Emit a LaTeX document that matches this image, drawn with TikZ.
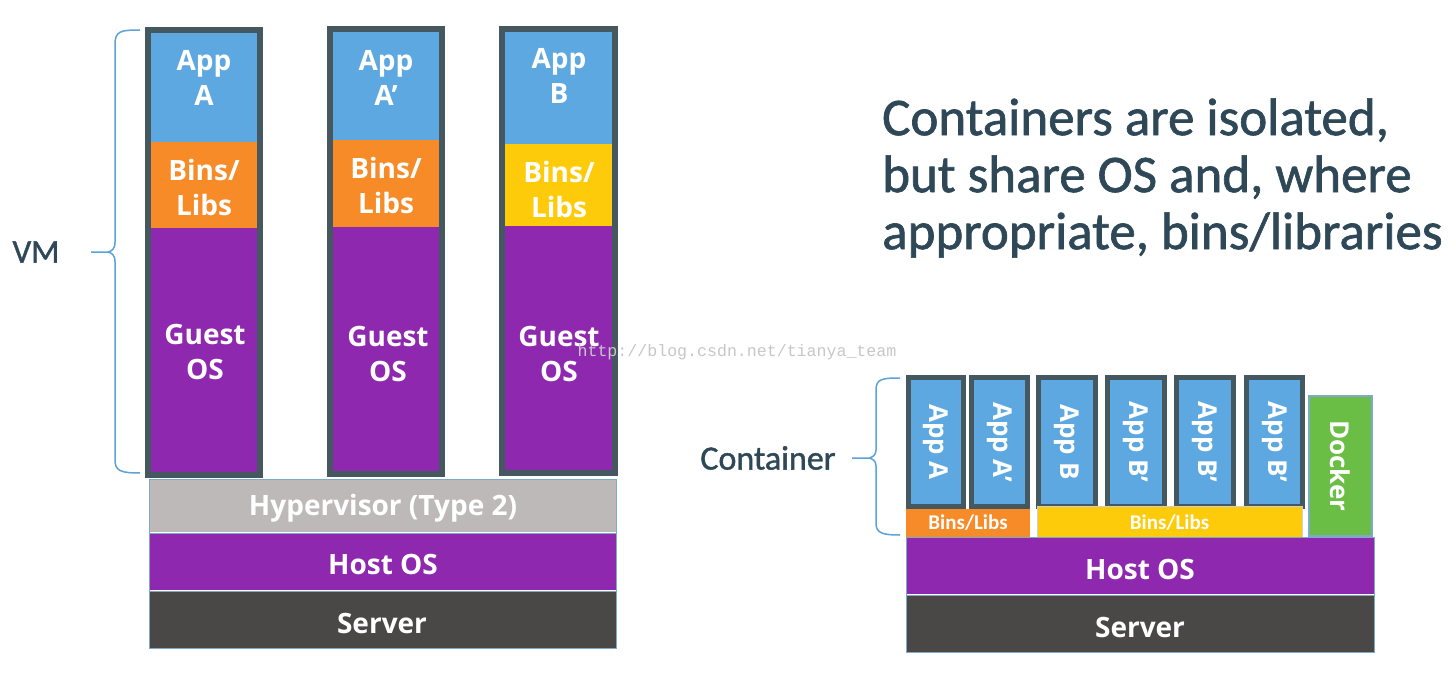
\documentclass[tikz,border=0pt]{standalone}
\usepackage{fontspec}
\setmainfont{Open Sans}
\newfontfamily\calfont{Carlito}
\newfontfamily\calheavy[FakeBold=1.2]{Carlito}
\newfontfamily\wmfont{Liberation Mono}
\definecolor{appblue}{HTML}{5DA8E0}
\definecolor{binorange}{HTML}{F68B28}
\definecolor{binyellow}{HTML}{FECB0A}
\definecolor{ospurple}{HTML}{8E28AE}
\definecolor{hypgray}{HTML}{BDB9B9}
\definecolor{serverdark}{HTML}{4A4747}
\definecolor{frame}{HTML}{45575F}
\definecolor{dockgreen}{HTML}{6ABD45}
\definecolor{txtdark}{HTML}{2F4858}
\definecolor{bracec}{HTML}{5BA3D9}
\definecolor{sepline}{HTML}{7FA9C9}
\definecolor{wmgray}{HTML}{C9C6C6}
% name, x0, y0, x1, y1, colour
\newcommand{\mkblock}[6]{%
  \node[blk, fill=#6, minimum width={(#4-#2)*1pt}, minimum height={(#5-#3)*1pt}] (#1) at (#2,#3) {};}
\begin{document}
\begin{tikzpicture}[x=1pt,y=-1pt,
  blk/.style={draw=none, inner sep=0pt, outer sep=0pt, anchor=north west},
  lbl/.style={text=white, font=\bfseries\fontsize{28}{35}\selectfont, align=center, inner sep=0pt},
  clbl/.style={text=white, font=\bfseries\fontsize{26}{30}\selectfont, inner sep=0pt, rotate=-90},
  slbl/.style={text=white, font=\calfont\bfseries\fontsize{21}{22}\selectfont, inner sep=0pt},
  dtext/.style={text=txtdark, inner sep=0pt},
  bracestyle/.style={draw=bracec, line width=1.5pt}]
\useasboundingbox (0,0) rectangle (1452,682);
\fill[white] (0,0) rectangle (1452,682);

% ---------- VM side ----------
\mkblock{f1}{145}{27}{263}{478}{frame}
\mkblock{app1}{151}{33}{257}{142}{appblue}
\mkblock{bin1}{151}{142}{257}{228}{binorange}
\mkblock{os1}{151}{228}{257}{472}{ospurple}

\mkblock{f2}{327}{26}{445}{477}{frame}
\mkblock{app2}{333}{32}{439}{140}{appblue}
\mkblock{bin2}{333}{140}{439}{227}{binorange}
\mkblock{os2}{333}{227}{439}{471}{ospurple}

\mkblock{f3}{499}{26}{618}{476}{frame}
\mkblock{app3}{505}{32}{612}{144}{appblue}
\mkblock{bin3}{505}{144}{612}{226}{binyellow}
\mkblock{os3}{505}{226}{612}{470}{ospurple}

\mkblock{hyp}{149}{479}{616}{532}{hypgray}
\mkblock{host1}{149}{533}{616}{590}{ospurple}
\mkblock{srv1}{149}{591}{616}{648}{serverdark}
\draw[sepline, line width=1pt] (hyp.north west) rectangle (srv1.south east);
\draw[sepline, line width=1pt] (host1.north west) -- (host1.north east);
\draw[sepline, line width=1pt] (srv1.north west) -- (srv1.north east);

\node[lbl] (tapp1) at (204,78) {App\\A};
\node[lbl] (tapp2) at (386,78) {App\\A’};
\node[lbl] (tapp3) at (559,76) {App\\B};
\node[lbl] (tbin1) at (204,187) {Bins/\\Libs};
\node[lbl] (tbin2) at (386,185) {Bins/\\Libs};
\node[lbl] (tbin3) at (559,189) {Bins/\\Libs};
\node[lbl] (tos1) at (205,352) {Guest\\OS};
\node[lbl] (tos2) at (388,354) {Guest\\OS};
\node[lbl] (tos3) at (559,354) {Guest\\OS};
\node[lbl] (thyp) at (383,508) {Hypervisor (Type 2)};
\node[lbl] (thost1) at (383,564) {Host OS};
\node[lbl] (tsrv1) at (382,623) {Server};

% VM brace
\draw[bracestyle] (140,30) .. controls (121,30) and (115,31) .. (115,44) -- (115,242)
  .. controls (115,249) and (112,251) .. (108,252) -- (91,252);
\draw[bracestyle] (108,252) .. controls (112,253) and (115,255) .. (115,262) -- (115,460)
  .. controls (115,471) and (121,473) .. (140,473);
\node[dtext, font=\calheavy\fontsize{33}{36}\selectfont] (vm) at (36,252) {VM};

% ---------- Container side ----------
\mkblock{cf1}{906}{375}{966}{509}{frame}
\mkblock{ca1}{911}{380}{961}{504}{appblue}
\mkblock{cf2}{969}{375}{1030}{509}{frame}
\mkblock{ca2}{974}{380}{1025}{504}{appblue}
\mkblock{cf3}{1036}{375}{1098}{509}{frame}
\mkblock{ca3}{1041}{380}{1093}{504}{appblue}
\mkblock{cf4}{1105}{375}{1167}{509}{frame}
\mkblock{ca4}{1110}{380}{1162}{504}{appblue}
\mkblock{cf5}{1174}{375}{1236}{509}{frame}
\mkblock{ca5}{1179}{380}{1231}{504}{appblue}
\mkblock{cf6}{1244}{375}{1305}{509}{frame}
\mkblock{ca6}{1249}{380}{1300}{504}{appblue}
\mkblock{dock}{1309}{396}{1372}{536}{dockgreen}
\draw[sepline, line width=1.2pt] (dock.north west) rectangle (dock.south east);

\mkblock{cbin1}{906}{509}{1030}{537}{binorange}
\mkblock{cbin2}{1037}{506}{1302}{539}{binyellow}
\draw[hypgray!70, line width=0.8pt] (cbin2.north west) rectangle (cbin2.south east);
\mkblock{host2}{906}{537}{1374}{594}{ospurple}
\mkblock{srv2}{906}{595}{1374}{652}{serverdark}
\draw[sepline, line width=1pt] (host2.north west) rectangle (srv2.south east);
\draw[sepline, line width=1pt] (srv2.north west) -- (srv2.north east);

\node[clbl] (tca1) at (ca1.center) {App A};
\node[clbl] (tca2) at (ca2.center) {App A’};
\node[clbl] (tca3) at (ca3.center) {App B};
\node[clbl] (tca4) at (ca4.center) {App B’};
\node[clbl] (tca5) at (ca5.center) {App B’};
\node[clbl] (tca6) at (ca6.center) {App B’};
\node[clbl] (tdock) at (dock.center) {Docker};
\node[slbl] (tcbin1) at (cbin1.center) {Bins/Libs};
\node[slbl] (tcbin2) at (cbin2.center) {Bins/Libs};
\node[lbl] (thost2) at (1140,569) {Host OS};
\node[lbl] (tsrv2) at (1140,627) {Server};

% Container brace
\draw[bracestyle] (900,378) .. controls (882,378) and (876,379) .. (876,390) -- (876,450)
  .. controls (876,455) and (873,457) .. (869,458) -- (852,458);
\draw[bracestyle] (869,458) .. controls (873,459) and (876,461) .. (876,466) -- (876,523)
  .. controls (876,533) and (882,535) .. (900,535);
\node[dtext, font=\calheavy\fontsize{34}{36}\selectfont] (cont) at (768,458) {Container};

\node[dtext, anchor=west, align=left, font=\calheavy\fontsize{53}{57}\selectfont] (headline) at (882,178)
  {Containers are isolated,\\but share OS and, where\\appropriate, bins/libraries};

\node[text=wmgray, inner sep=0pt, font=\wmfont\fontsize{16.6}{18}\selectfont] (wm) at (737,352) {http://blog.csdn.net/tianya\_team};
\end{tikzpicture}
\end{document}
